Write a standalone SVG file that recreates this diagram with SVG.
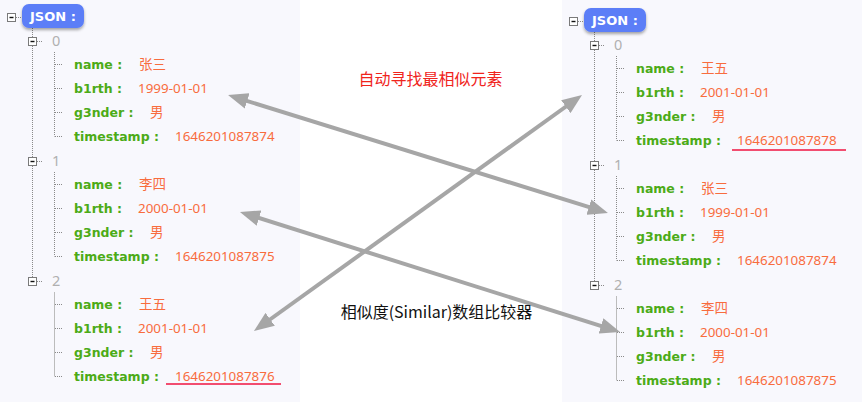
<svg xmlns="http://www.w3.org/2000/svg" width="862" height="402" viewBox="0 0 862 402">
<style>
.panel{fill:#f8f8fd}
.dot{stroke:#8a8a8a;stroke-width:1;stroke-dasharray:1 1;fill:none}
.solid{stroke:#bcbcbc;stroke-width:1;fill:none}
.box{fill:#fff;stroke:#7a7a7a;stroke-width:1}
.minus{stroke:#111;stroke-width:1.4}
.idx{font-family:"Noto Sans","DejaVu Sans",sans-serif;font-size:14.5px;fill:#b0b0b0}
.key{font-family:"DejaVu Sans","Verdana",sans-serif;font-weight:bold;font-size:12.5px;fill:#4cab17}
.val{font-family:"Noto Sans","Noto Sans CJK SC",sans-serif;font-size:13.4px;fill:#f86c3e}
.cjk{font-family:"Noto Sans CJK SC",sans-serif;font-size:13.5px;fill:#f86c3e}
.badge{fill:#5b7ef7}
.badgeText{font-family:"DejaVu Sans",sans-serif;font-weight:bold;font-size:13px;fill:#fff}
.uline{stroke:#f01440;stroke-width:1.6}
.arrow{stroke:#a6a6a6;stroke-width:4;fill:none;marker-start:url(#ah);marker-end:url(#ah)}
.lbl{font-family:"Noto Sans CJK SC",sans-serif;font-size:16px}
</style>
<defs>
<filter id="sh" x="-20%" y="-30%" width="140%" height="180%">
<feDropShadow dx="0" dy="2" stdDeviation="1.8" flood-color="#000" flood-opacity="0.35"/>
</filter>
<marker id="ah" markerUnits="userSpaceOnUse" markerWidth="20" markerHeight="16" viewBox="0 0 20 16" refX="8" refY="8" orient="auto-start-reverse">
<path d="M0,0 L20,8 L0,16 z" fill="#a6a6a6"/>
</marker>
</defs>
<rect width="862" height="402" fill="#fff"/>
<rect class="panel" x="0" y="0" width="300" height="402"/>
<rect class="panel" x="562" y="0" width="300" height="402"/>

<g id="left-tree">
<g id="left-root">
<line class="dot" x1="32.5" y1="28" x2="32.5" y2="278"/>
<rect class="box" x="7.5" y="13.5" width="8" height="8"/>
<line class="minus" x1="9.5" y1="17.5" x2="13.5" y2="17.5"/>
<line class="dot" x1="16" y1="17.5" x2="21" y2="17.5"/>
<rect class="badge" x="22" y="4" width="62" height="24" rx="7" filter="url(#sh)"/>
<text class="badgeText" x="30" y="21">JSON :</text>
</g>
<g id="left-item-0">
<rect class="box" x="28.5" y="37.5" width="8" height="8"/>
<line class="minus" x1="30.5" y1="41.5" x2="34.5" y2="41.5"/>
<line class="dot" x1="37" y1="41.5" x2="42" y2="41.5"/>
<text class="idx" x="52" y="46">0</text>
<path class="dot" d="M54.5,52V136.5M55,64.5H62M55,88.5H62M55,112.5H62M55,136.5H62"/>
<text class="key" x="74" y="68.7">name :</text><text class="cjk" x="139" y="69.2">张三</text>
<text class="key" x="74" y="92.7">b1rth :</text><text class="val" x="138" y="92.7">1999-01-01</text>
<text class="key" x="74" y="116.7">g3nder :</text><text class="cjk" x="150" y="117.2">男</text>
<text class="key" x="74" y="140.7">timestamp :</text><text class="val" x="175" y="140.7">1646201087874</text>
</g>
<g id="left-item-1">
<rect class="box" x="28.5" y="157.5" width="8" height="8"/>
<line class="minus" x1="30.5" y1="161.5" x2="34.5" y2="161.5"/>
<line class="dot" x1="37" y1="161.5" x2="42" y2="161.5"/>
<text class="idx" x="52" y="166">1</text>
<path class="dot" d="M54.5,172V256.5M55,184.5H62M55,208.5H62M55,232.5H62M55,256.5H62"/>
<text class="key" x="74" y="188.7">name :</text><text class="cjk" x="139" y="189.2">李四</text>
<text class="key" x="74" y="212.7">b1rth :</text><text class="val" x="138" y="212.7">2000-01-01</text>
<text class="key" x="74" y="236.7">g3nder :</text><text class="cjk" x="150" y="237.2">男</text>
<text class="key" x="74" y="260.7">timestamp :</text><text class="val" x="175" y="260.7">1646201087875</text>
</g>
<g id="left-item-2">
<rect class="box" x="28.5" y="277.5" width="8" height="8"/>
<line class="minus" x1="30.5" y1="281.5" x2="34.5" y2="281.5"/>
<line class="dot" x1="37" y1="281.5" x2="42" y2="281.5"/>
<text class="idx" x="52" y="286">2</text>
<path class="solid" d="M54.5,292V376.5"/>
<path class="dot" d="M55,304.5H62M55,328.5H62M55,352.5H62M55,376.5H62"/>
<text class="key" x="74" y="308.7">name :</text><text class="cjk" x="139" y="309.2">王五</text>
<text class="key" x="74" y="332.7">b1rth :</text><text class="val" x="138" y="332.7">2001-01-01</text>
<text class="key" x="74" y="356.7">g3nder :</text><text class="cjk" x="150" y="357.2">男</text>
<text class="key" x="74" y="380.7">timestamp :</text><text class="val" x="175" y="380.7">1646201087876</text>
<line class="uline" x1="166" y1="384" x2="281" y2="384"/>
</g>
</g>

<g id="right-tree" transform="translate(562,4)">
<g id="right-root">
<line class="dot" x1="32.5" y1="28" x2="32.5" y2="278"/>
<rect class="box" x="7.5" y="13.5" width="8" height="8"/>
<line class="minus" x1="9.5" y1="17.5" x2="13.5" y2="17.5"/>
<line class="dot" x1="16" y1="17.5" x2="21" y2="17.5"/>
<rect class="badge" x="22" y="4" width="62" height="24" rx="7" filter="url(#sh)"/>
<text class="badgeText" x="30" y="21">JSON :</text>
</g>
<g id="right-item-0">
<rect class="box" x="28.5" y="37.5" width="8" height="8"/>
<line class="minus" x1="30.5" y1="41.5" x2="34.5" y2="41.5"/>
<line class="dot" x1="37" y1="41.5" x2="42" y2="41.5"/>
<text class="idx" x="52" y="46">0</text>
<path class="dot" d="M54.5,52V136.5M55,64.5H62M55,88.5H62M55,112.5H62M55,136.5H62"/>
<text class="key" x="74" y="68.7">name :</text><text class="cjk" x="139" y="69.2">王五</text>
<text class="key" x="74" y="92.7">b1rth :</text><text class="val" x="138" y="92.7">2001-01-01</text>
<text class="key" x="74" y="116.7">g3nder :</text><text class="cjk" x="150" y="117.2">男</text>
<text class="key" x="74" y="140.7">timestamp :</text><text class="val" x="175" y="140.7">1646201087878</text>
<line class="uline" x1="170" y1="146" x2="284" y2="146"/>
</g>
<g id="right-item-1">
<rect class="box" x="28.5" y="157.5" width="8" height="8"/>
<line class="minus" x1="30.5" y1="161.5" x2="34.5" y2="161.5"/>
<line class="dot" x1="37" y1="161.5" x2="42" y2="161.5"/>
<text class="idx" x="52" y="166">1</text>
<path class="dot" d="M54.5,172V256.5M55,184.5H62M55,208.5H62M55,232.5H62M55,256.5H62"/>
<text class="key" x="74" y="188.7">name :</text><text class="cjk" x="139" y="189.2">张三</text>
<text class="key" x="74" y="212.7">b1rth :</text><text class="val" x="138" y="212.7">1999-01-01</text>
<text class="key" x="74" y="236.7">g3nder :</text><text class="cjk" x="150" y="237.2">男</text>
<text class="key" x="74" y="260.7">timestamp :</text><text class="val" x="175" y="260.7">1646201087874</text>
</g>
<g id="right-item-2">
<rect class="box" x="28.5" y="277.5" width="8" height="8"/>
<line class="minus" x1="30.5" y1="281.5" x2="34.5" y2="281.5"/>
<line class="dot" x1="37" y1="281.5" x2="42" y2="281.5"/>
<text class="idx" x="52" y="286">2</text>
<path class="solid" d="M54.5,292V376.5"/>
<path class="dot" d="M55,304.5H62M55,328.5H62M55,352.5H62M55,376.5H62"/>
<text class="key" x="74" y="308.7">name :</text><text class="cjk" x="139" y="309.2">李四</text>
<text class="key" x="74" y="332.7">b1rth :</text><text class="val" x="138" y="332.7">2000-01-01</text>
<text class="key" x="74" y="356.7">g3nder :</text><text class="cjk" x="150" y="357.2">男</text>
<text class="key" x="74" y="380.7">timestamp :</text><text class="val" x="175" y="380.7">1646201087875</text>
</g>
</g>

<g id="connectors">
<line class="arrow" x1="239.5" y1="98.6" x2="596.5" y2="209.4"/>
<line class="arrow" x1="251.4" y1="215.6" x2="608.6" y2="328.4"/>
<line class="arrow" x1="263.7" y1="324.0" x2="572.3" y2="102.0"/>
</g>

<g id="labels">
<text class="lbl" x="430.5" y="85" text-anchor="middle" fill="#f0241c">自动寻找最相似元素</text>
<text class="lbl" x="436.5" y="318" text-anchor="middle" fill="#111">相似度(Similar)数组比较器</text>
</g>
</svg>
